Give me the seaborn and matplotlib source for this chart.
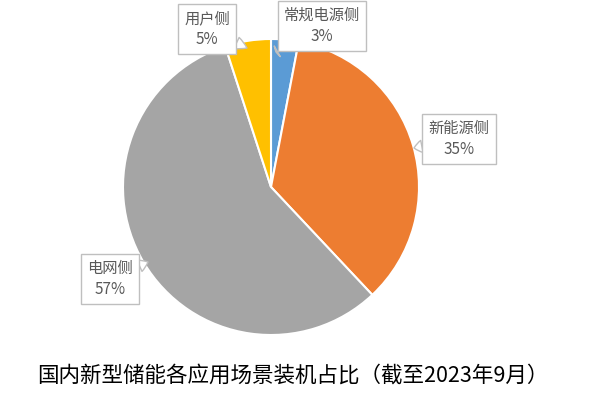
import matplotlib
matplotlib.use("Agg")
import matplotlib.pyplot as plt
import numpy as np
import seaborn as sns

# data
categories = ["常规电源侧", "新能源侧", "电网侧", "用户侧"]
shares = [3, 35, 57, 5]
colors = ["#5B9BD5", "#ED7D31", "#A5A5A5", "#FFC000"]
title = "国内新型储能各应用场景装机占比（截至2023年9月）"

sns.set_theme(style="white")
plt.rcParams["font.family"] = ["Noto Sans CJK SC", "DejaVu Sans"]

fig = plt.figure(figsize=(6, 3.93), dpi=100)
W, H = 600, 393
cx, cy, r = 271, 187, 148
ax = fig.add_axes([(cx - r) / W, (H - cy - r) / H, 2 * r / W, 2 * r / H])

wedges, _ = ax.pie(shares, colors=colors, startangle=90, counterclock=False,
                   wedgeprops=dict(edgecolor="white", linewidth=1.5))
ax.set_xlim(-1, 1)
ax.set_ylim(-1, 1)
ax.set_aspect("auto")
ax.axis("off")

# callout label boxes (centre in pixels from top-left) and pointer tip
label_pos = [(322, 26), (459, 139), (110, 279), (207, 29)]
tips = [(276, 52), (414, 148), (148, 262), (247, 48)]

for name, val, (px, py), (tx, ty) in zip(categories, shares, label_pos, tips):
    xy = ((tx - cx) / r, (cy - ty) / r)
    ax.annotate(f"{name}\n{val}%", xy=xy, xycoords="data",
                xytext=(px / W, 1 - py / H), textcoords="figure fraction",
                ha="center", va="center", fontsize=11, color="#595959",
                linespacing=1.3, annotation_clip=False,
                bbox=dict(boxstyle="square,pad=0.4", fc="white", ec="#BFBFBF", lw=1),
                arrowprops=dict(arrowstyle="wedge,tail_width=0.8,shrink_factor=0.6",
                                fc="white", ec="#BFBFBF", lw=1,
                                shrinkA=0, shrinkB=0))

fig.text(292.5 / W, 1 - 376 / H, title, ha="center", va="center",
         fontsize=15.5, color="black")

fig.savefig("out.png", dpi=100, facecolor="white")
